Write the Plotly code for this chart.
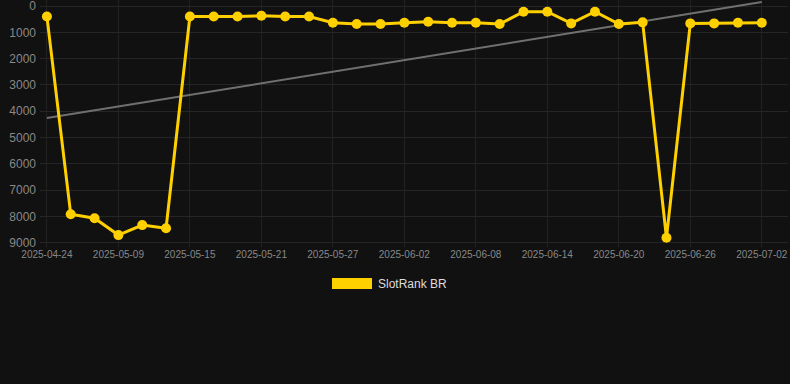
import plotly.graph_objects as go

dates = ["2025-04-24", "2025-04-29", "2025-05-04", "2025-05-09", "2025-05-11", "2025-05-13",
         "2025-05-15", "2025-05-17", "2025-05-19", "2025-05-21", "2025-05-23", "2025-05-25",
         "2025-05-27", "2025-05-29", "2025-05-31", "2025-06-02", "2025-06-04", "2025-06-06",
         "2025-06-08", "2025-06-10", "2025-06-12", "2025-06-14", "2025-06-16", "2025-06-18",
         "2025-06-20", "2025-06-22", "2025-06-24", "2025-06-26", "2025-06-28", "2025-06-30",
         "2025-07-02"]
rank = [400, 7920, 8070, 8710, 8330, 8450,
        400, 400, 400, 370, 400, 400,
        633, 685, 685, 633, 597, 633,
        633, 685, 215, 215, 660, 215,
        685, 620, 8810, 660, 660, 633,
        633]
trend_x = [dates[0], dates[-1]]
trend_y = [4260, -150]
tick_labels = dates[::3]
y_ticks = [0, 1000, 2000, 3000, 4000, 5000, 6000, 7000, 8000, 9000]
series_name = "SlotRank BR"

YELLOW = "#FFD000"
fig = go.Figure()
fig.add_trace(go.Scatter(x=trend_x, y=trend_y, mode="lines",
                         line=dict(color="#707070", width=2), showlegend=False, hoverinfo="skip"))
fig.add_trace(go.Scatter(x=dates, y=rank, mode="lines+markers", name=series_name,
                         line=dict(color=YELLOW, width=3),
                         marker=dict(color=YELLOW, size=10), showlegend=False))

fig.update_layout(
    width=790, height=384,
    paper_bgcolor="#111111", plot_bgcolor="#111111",
    margin=dict(l=40, r=2, t=0, b=137),
    font=dict(family="Liberation Sans, Arial, sans-serif", color="#888888"),
    xaxis=dict(type="category", categoryorder="array", categoryarray=dates,
               range=[-0.29, 31.1], tickmode="array", tickvals=tick_labels, ticktext=tick_labels,
               tickfont=dict(size=10, color="#888888"), showgrid=True, gridcolor="#222222",
               zeroline=False, showline=False, ticks="", ticklabeloverflow="allow"),
    yaxis=dict(range=[9163, -230], tickmode="array", tickvals=y_ticks,
               tickfont=dict(size=12, color="#888888"), showgrid=True, gridcolor="#252525",
               zeroline=False, showline=False, ticks="", ticklabelstandoff=3,
               ticklabeloverflow="allow"),
    shapes=[dict(type="rect", xref="paper", yref="paper",
                 x0=(332 - 40) / 748, x1=(372 - 40) / 748,
                 y0=(247 - 289) / 247, y1=(247 - 278) / 247,
                 fillcolor=YELLOW, line=dict(width=0))],
    annotations=[dict(text=series_name, xref="paper", yref="paper",
                      x=(376 - 40) / 748, y=(247 - 284) / 247, xanchor="left", yanchor="middle",
                      showarrow=False, font=dict(size=12, color="#dddddd"))],
)

fig.write_html("out.html", config={"displayModeBar": False},
               post_script="document.body.style.margin='0';document.body.style.background='#111111';")
